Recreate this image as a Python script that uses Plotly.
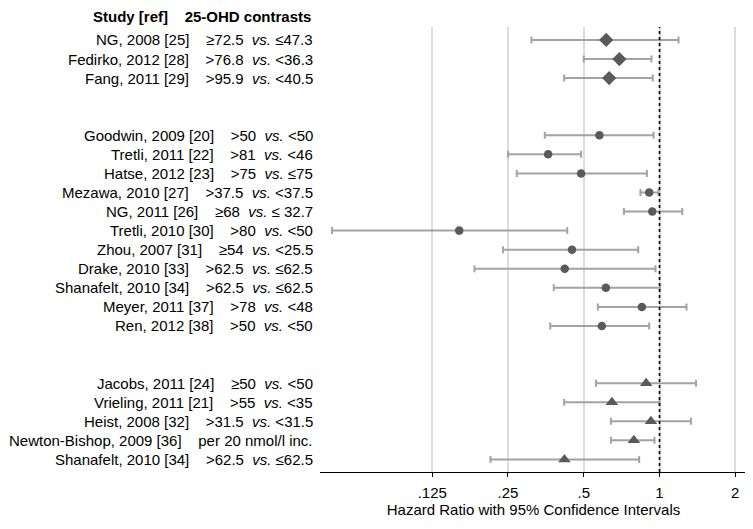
import plotly.graph_objects as go

# ---- data ----
group1_studies = ["NG, 2008 [25]", "Fedirko, 2012 [28]", "Fang, 2011 [29]"]
group1_high = ["≥72.5", ">76.8", ">95.9"]
group1_low = ["≤47.3", "<36.3", "<40.5"]
group1_hr = [0.614, 0.693, 0.631]
group1_lo = [0.310, 0.500, 0.418]
group1_hi = [1.19, 0.929, 0.94]

group2_studies = ["Goodwin, 2009 [20]", "Tretli, 2011 [22]", "Hatse, 2012 [23]",
                  "Mezawa, 2010 [27]", "NG, 2011 [26]", "Tretli, 2010 [30]",
                  "Zhou, 2007 [31]", "Drake, 2010 [33]", "Shanafelt, 2010 [34]",
                  "Meyer, 2011 [37]", "Ren, 2012 [38]"]
group2_high = [">50", ">81", ">75", ">37.5", "≥68", ">80", "≥54", ">62.5", ">62.5", ">78", ">50"]
group2_low = ["<50", "<46", "≤75", "<37.5", "≤ 32.7", "<50", "<25.5", "≤62.5", "≤62.5", "<48", "<50"]
group2_hr = [0.577, 0.361, 0.488, 0.910, 0.936, 0.160, 0.449, 0.420, 0.612, 0.851, 0.590]
group2_lo = [0.350, 0.250, 0.271, 0.840, 0.722, 0.050, 0.239, 0.184, 0.380, 0.569, 0.368]
group2_hi = [0.947, 0.488, 0.891, 0.990, 1.231, 0.430, 0.823, 0.964, 1.006, 1.28, 0.910]

group3_studies = ["Jacobs, 2011 [24]", "Vrieling, 2011 [21]", "Heist, 2008 [32]",
                  "Newton-Bishop, 2009 [36]", "Shanafelt, 2010 [34]"]
group3_high = ["≥50", ">55", ">31.5", "per 20 nmol/l inc.", ">62.5"]
group3_low = ["<50", "<35", "<31.5", "", "≤62.5"]
group3_hr = [0.885, 0.647, 0.924, 0.791, 0.419]
group3_lo = [0.559, 0.418, 0.641, 0.641, 0.213]
group3_hi = [1.396, 1.000, 1.333, 0.955, 0.830]

tick_vals = [0.125, 0.25, 0.5, 1, 2]
tick_text = [".125", ".25", ".5", "1", "2"]

header_text = "<b>Study [ref]    25-OHD contrasts</b>"
x_title = "Hazard Ratio with 95% Confidence Intervals"

groups = [
    (group1_studies, group1_high, group1_low, group1_hr, group1_lo, group1_hi, "diamond", 11),
    (group2_studies, group2_high, group2_low, group2_hr, group2_lo, group2_hi, "circle", 8.5),
    (group3_studies, group3_high, group3_low, group3_hr, group3_lo, group3_hi, "triangle-up", 11),
]

FONT = "Arial, 'Liberation Sans', sans-serif"
MARK = "#5a5a5a"
CI = "#a3a3a3"
NB = "\u00a0"

fig = go.Figure()
annotations = []
row = 0
for studies, highs, lows, hr, lo, hi, sym, msize in groups:
    rows = list(range(row, row + len(studies)))
    fig.add_trace(go.Scatter(
        x=hr, y=rows, mode="markers",
        marker=dict(symbol=sym, size=msize, color=MARK, line=dict(width=0)),
        error_x=dict(type="data", symmetric=False,
                     array=[h - p for h, p in zip(hi, hr)],
                     arrayminus=[p - l for p, l in zip(hr, lo)],
                     color=CI, thickness=2, width=3.5),
        showlegend=False, hoverinfo="skip"))
    for r, s, a, b in zip(rows, studies, highs, lows):
        if b:
            contrast = f"{a}{NB}{NB}<i>vs.</i> {b}"
        else:
            contrast = a
        annotations.append(dict(
            x=0, xref="paper", y=r, yref="y", xanchor="right", yanchor="middle",
            xshift=-5, showarrow=False,
            text=f"{s}{NB}{NB}{NB}{NB}{contrast}",
            font=dict(family=FONT, size=15, color="#000")))
    row += len(studies) + 2

annotations.append(dict(
    x=0, xref="paper", y=1.0247, yref="paper", xanchor="right", yanchor="middle",
    xshift=-7, showarrow=False, text=header_text.replace("    ", NB * 4),
    font=dict(family=FONT, size=15, color="#000")))

fig.add_shape(type="line", x0=1, x1=1, xref="x", y0=0, y1=1, yref="paper",
              line=dict(color="#000", width=1.6, dash="dot"))

fig.update_layout(
    width=745, height=521,
    margin=dict(l=312, r=6, t=19, b=57),
    paper_bgcolor="white", plot_bgcolor="white",
    font=dict(family=FONT, size=15, color="#000"),
    annotations=annotations,
    xaxis=dict(type="log", range=[-1.349, 0.3476],
               tickvals=tick_vals, ticktext=tick_text,
               showgrid=True, gridcolor="#dcdcdc", gridwidth=1.5,
               showline=True, linecolor="#000", linewidth=1.2,
               ticks="outside", ticklen=4, tickcolor="#000",
               ticklabelstandoff=3,
               zeroline=False,
               tickfont=dict(family=FONT, size=15, color="#000"),
               title=dict(text=x_title, font=dict(family=FONT, size=15, color="#000"), standoff=0)),
    yaxis=dict(range=[22.66, -0.68], visible=False, showgrid=False, zeroline=False),
)

fig.write_html("out.html")
